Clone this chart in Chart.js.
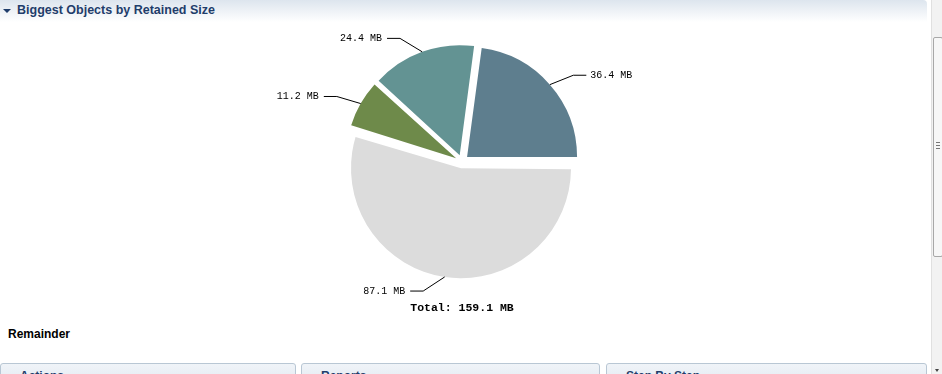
<!DOCTYPE html>
<html lang="en">
<head>
    <meta charset="UTF-8">
    <title>Biggest Objects by Retained Size</title>
    <script src="https://cdn.jsdelivr.net/npm/chart.js"></script>
    <style>
        body { margin: 0; background: #fff; font-family: "Liberation Sans", Arial, sans-serif; width: 942px; height: 374px; overflow: hidden; position: relative; }
        .header { position: absolute; left: 0; top: 0; width: 927px; height: 22px; background: linear-gradient(#dde5ee, #fff); border-top-right-radius: 4px; }
        .header .arrow { position: absolute; left: 3px; top: 9px; width: 0; height: 0; border-left: 4px solid transparent; border-right: 4px solid transparent; border-top: 4px solid #1f3d6b; }
        .header .title { position: absolute; left: 17px; top: 3px; font-weight: bold; font-size: 12.5px; color: #1f3d6b; }
        #pie { position: absolute; left: 0; top: 22px; }
        .remainder { position: absolute; left: 8px; top: 327px; font-weight: bold; font-size: 12px; color: #000; }
        .panel { position: absolute; top: 363px; height: 20px; border: 1px solid #b9c7d4; border-radius: 3px 3px 0 0; background: linear-gradient(#f0f4f8, #e3eaf2); }
        .panel span { position: absolute; left: 19px; top: 5px; font-weight: bold; font-size: 12px; color: #1f3d6b; }
        .scroll { position: absolute; left: 931px; top: 0; width: 11px; height: 374px; background: #f2f2f2; border-left: 1px solid #e0e0e0; }
        .thumb { position: absolute; left: 1px; top: 37px; width: 8px; height: 218px; background: #f7f7f7; border: 1px solid #a8a8a8; border-radius: 2px; }
        .grip { position: absolute; left: 2px; top: 104px; width: 4px; height: 5px; border-top: 1px solid #777; border-bottom: 1px solid #777; }
        .grip:after { content: ""; position: absolute; left: 0; top: 2px; width: 4px; height: 1px; background: #777; }
        .down { position: absolute; left: 3px; top: 369px; width: 0; height: 0; border-left: 2px solid transparent; border-right: 2px solid transparent; border-top: 3px solid #444; }
    </style>
</head>
<body>
    <div class="header"><div class="arrow"></div><div class="title">Biggest Objects by Retained Size</div></div>
    <canvas id="pie" width="924" height="300"></canvas>
    <div class="remainder">Remainder</div>
    <div class="panel" style="left:0;width:294px"><span>Actions</span></div>
    <div class="panel" style="left:301px;width:297px"><span>Reports</span></div>
    <div class="panel" style="left:606px;width:319px"><span>Step By Step</span></div>
    <div class="scroll"><div class="thumb"><div class="grip"></div></div><div class="down"></div></div>

    <script>
        // slices in drawing order, clockwise from 3 o'clock
        const sliceNames = ["Remainder", "Object 3", "Object 2", "Object 1"];
        const retainedMB = [87.1, 11.2, 24.4, 36.4];
        const sliceColors = ["#dcdcdc", "#6e8a4a", "#639393", "#5e7e8e"];

        const PIE_RADIUS = 110;
        const EXPLODE = 27; // chart.js moves each arc by offset / 4

        // chart.js grows some arcs by part of the offset; undo that so all slices share one radius
        function radiusFix(arc) {
            const circ = arc.endAngle - arc.startAngle;
            return (arc.options.offset / 4) * (1 - Math.sin(Math.min(Math.PI, circ)));
        }

        const evenRadius = {
            id: "evenRadius",
            beforeDatasetsDraw(chart) {
                chart.getDatasetMeta(0).data.forEach(arc => {
                    arc.outerRadius = PIE_RADIUS - radiusFix(arc);
                });
            }
        };

        // value labels with a bent leader line, plus the total under the pie
        const leaderLabels = {
            id: "leaderLabels",
            afterDatasetsDraw(chart) {
                const ctx = chart.ctx;
                const meta = chart.getDatasetMeta(0);
                let cx = 0, bottom = 0;
                ctx.save();
                ctx.strokeStyle = "#000";
                ctx.fillStyle = "#000";
                ctx.lineWidth = 1;
                ctx.font = '10px "Liberation Mono", monospace';
                ctx.textBaseline = "middle";
                meta.data.forEach((arc, i) => {
                    const t = arc.options.offset / 4;
                    const r = arc.outerRadius + radiusFix(arc);
                    const mid = (arc.startAngle + arc.endAngle) / 2;
                    const cos = Math.cos(mid), sin = Math.sin(mid);
                    const right = cos >= 0;
                    const ax = arc.x + t * cos, ay = arc.y + t * sin;
                    const ex = ax + r * cos, ey = ay + r * sin;
                    const bx = arc.x + (r + 10) * cos + (right ? 21 : -21);
                    const by = arc.y + (r + 21) * sin;
                    const hx = bx + (right ? 13 : -13);
                    ctx.beginPath();
                    ctx.moveTo(ex, ey);
                    ctx.lineTo(bx, by);
                    ctx.lineTo(hx, by);
                    ctx.stroke();
                    ctx.textAlign = right ? "left" : "right";
                    ctx.fillText(retainedMB[i].toFixed(1) + " MB", hx + (right ? 4 : -5), by);
                    cx = arc.x;
                    if (arc.endAngle - arc.startAngle > Math.PI) bottom = ay + r;
                });
                const total = retainedMB.reduce((s, v) => s + v, 0);
                ctx.font = 'bold 11.5px "Liberation Mono", monospace';
                ctx.textAlign = "center";
                ctx.fillText("Total: " + total.toFixed(1) + " MB", cx, bottom + 30);
                ctx.restore();
            }
        };

        new Chart(document.getElementById("pie"), {
            type: "pie",
            data: {
                labels: sliceNames,
                datasets: [{
                    data: retainedMB,
                    backgroundColor: sliceColors,
                    borderWidth: 0,
                    offset: EXPLODE,
                    radius: PIE_RADIUS,
                    rotation: 90
                }]
            },
            options: {
                responsive: false,
                animation: false,
                layout: { padding: { bottom: 21 } },
                plugins: { legend: { display: false }, tooltip: { enabled: false } }
            },
            plugins: [evenRadius, leaderLabels]
        });
    </script>
</body>
</html>
